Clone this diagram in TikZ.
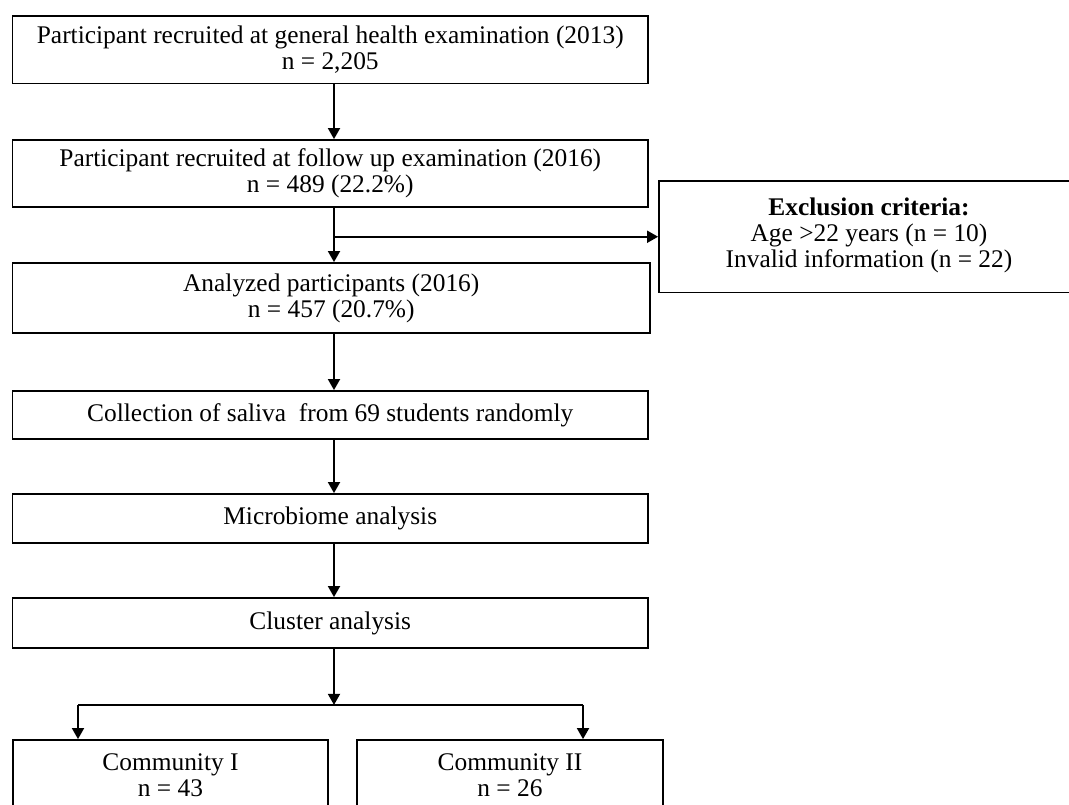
\documentclass[tikz,border=0pt]{standalone}
\usepackage{fontspec}
\setmainfont{Liberation Serif}
\usetikzlibrary{arrows.meta,calc}
\begin{document}
\begin{tikzpicture}[x=0.5pt,y=-0.5pt,
  box/.style={draw, line width=0.9pt, rectangle, inner sep=0pt, align=center, font=\fontsize{12.7}{13}\selectfont},
  arr/.style={-{Triangle[length=5.5pt,width=6pt]}, line width=0.9pt},
  ln/.style={line width=0.9pt}]
\useasboundingbox (0,0) rectangle (1069,804);
\clip (0,0) rectangle (1069,804);

\node[box, minimum width=317.75pt, minimum height=33.75pt] (b1) at (330.25,49.75)
  {Participant recruited at general health examination (2013)\\ n = 2,205};
\node[box, minimum width=317.75pt, minimum height=33.5pt] (b2) at (330.25,173.5)
  {Participant recruited at follow up examination (2016)\\ n = 489 (22.2\%)};
\node[box, minimum width=318.75pt, minimum height=35pt] (b3) at (331.25,298)
  {Analyzed participants (2016)\\ n = 457 (20.7\%)};
\node[box, minimum width=317.75pt, minimum height=24pt] (b4) at (330.25,415)
  {Collection of saliva\ \ from 69 students randomly};
\node[box, minimum width=317.75pt, minimum height=24.5pt] (b5) at (330.25,518.5)
  {Microbiome analysis};
\node[box, minimum width=317.75pt, minimum height=25pt] (b6) at (330.25,623)
  {Cluster analysis};
\node[box, minimum width=157.5pt, minimum height=35.5pt] (b7) at (170.5,775.5)
  {Community I\\ n = 43};
\node[box, minimum width=153pt, minimum height=35.5pt] (b8) at (510,775.5)
  {Community II\\ n = 26};
\node[box, minimum width=210pt, minimum height=55.75pt] (ex) at (869,236.75)
  {\raisebox{4.5pt}{\begin{tabular}{@{}c@{}}\textbf{Exclusion criteria:}\\ Age >22 years (n = 10)\\ Invalid information (n = 22)\end{tabular}}};

\coordinate (ax) at (334,0);
\draw[arr] (b1.south -| ax) -- (b2.north -| ax);
\draw[arr] (b2.south -| ax) -- (b3.north -| ax);
\coordinate (br) at (ex.west -| ax);
\draw[arr] (br) -- (ex.west);
\draw[arr] (b3.south -| ax) -- (b4.north -| ax);
\draw[arr] (b4.south -| ax) -- (b5.north -| ax);
\draw[arr] (b5.south -| ax) -- (b6.north -| ax);
\coordinate (sp) at ([yshift=-28pt]b6.south -| ax);
\draw[arr] (b6.south -| ax) -- (sp);
\coordinate (sl) at ([xshift=-46.25pt]b7.north |- sp);
\coordinate (sr) at ([xshift=36.5pt]b8.north |- sp);
\draw[ln] (sl) -- (sr);
\draw[arr] (sl) -- ([xshift=-46.25pt]b7.north);
\draw[arr] (sr) -- ([xshift=36.5pt]b8.north);
\end{tikzpicture}
\end{document}
